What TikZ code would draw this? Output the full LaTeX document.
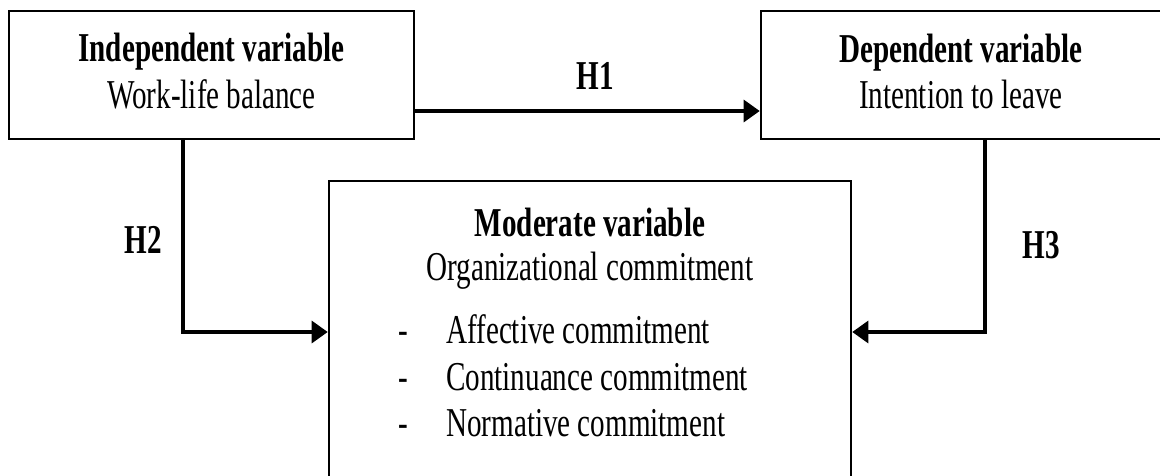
\documentclass[tikz,border=0pt]{standalone}
\usepackage{fontspec}
\setmainfont{Liberation Serif}[FakeStretch=0.71]
\usetikzlibrary{arrows.meta}
\begin{document}
\begin{tikzpicture}[x=1pt,y=-1pt,
  box/.style={draw, line width=2.6pt, inner sep=0pt, fill=none},
  arr/.style={line width=3.2pt, -{Triangle[length=16pt,width=22pt]}},
  hd/.style={font=\fontsize{41}{47}\selectfont\bfseries, anchor=base, inner sep=0pt},
  tx/.style={font=\fontsize{41}{47}\selectfont, anchor=base, inner sep=0pt},
  item/.style={font=\fontsize{41}{47}\selectfont, anchor=base west, inner sep=0pt},
  ]
\useasboundingbox (0,0) rectangle (1160,475);

% boxes
\node[box, minimum width=405pt, minimum height=128pt] (indep) at (211.5,75) {};
\node[box, minimum width=405pt, minimum height=128pt] (dep) at (963.5,75) {};
\node[box, minimum width=522pt, minimum height=314pt] (moder) at (590,338) {};

% box texts
\node[hd] (indepT) at (211.5,61) {Independent variable};
\node[tx] (indepS) at (211.5,108) {Work-life balance};
\node[hd] (depT) at (961,62) {Dependent variable};
\node[tx] (depS) at (961,108) {Intention to leave};
\node[hd] (modT) at (590,236) {Moderate variable};
\node[tx] (modS) at (590,280) {Organizational commitment};
\node[tx] (d1) at (403,343) {-};
\node[tx] (d2) at (403,390) {-};
\node[tx] (d3) at (403,436) {-};
\node[item] (i1) at (446,343) {Affective commitment};
\node[item] (i2) at (446,390) {Continuance commitment};
\node[item] (i3) at (446,436) {Normative commitment};

% hypothesis labels
\node[hd] (h1) at (595,89) {H1};
\node[hd] (h2) at (143,253) {H2};
\node[hd] (h3) at (1041,258) {H3};

% connector guides
\coordinate (h1y) at (0,111);
\coordinate (h2c) at (183,332);
\coordinate (h3c) at (985,332);

% connectors
\draw[arr] (indep.east |- h1y) -- (dep.west |- h1y);
\draw[arr] (indep.south -| h2c) |- (moder.west |- h2c);
\draw[arr] (dep.south -| h3c) |- (moder.east |- h3c);
\end{tikzpicture}
\end{document}
